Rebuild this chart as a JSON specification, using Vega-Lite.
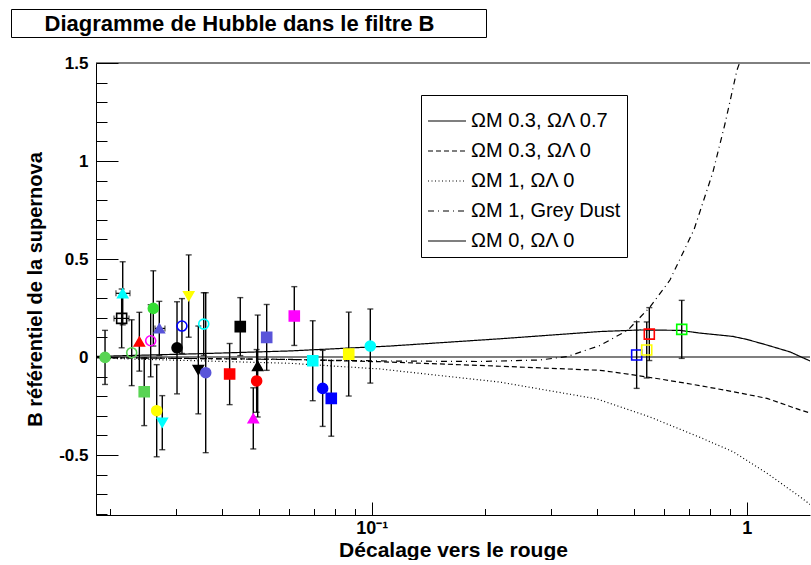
{
  "$schema": "https://vega.github.io/schema/vega-lite/v6.json",
  "background": "white",
  "padding": {"left": 10, "top": 8, "right": 0, "bottom": 0},
  "config": {
    "font": "Liberation Sans",
    "view": {"stroke": null},
    "axis": {"labelFont": "Liberation Sans", "titleFont": "Liberation Sans", "labelColor": "black", "titleColor": "black", "tickColor": "black", "domainColor": "black", "grid": false}
  },
  "datasets": {
    "titre": [{"texte": "Diagramme de Hubble dans le filtre B"}],
    "modeles": [
      {"modele": "ΩM 0.3, ΩΛ 0.7", "z": 0.0184, "delta": 0.003},
      {"modele": "ΩM 0.3, ΩΛ 0.7", "z": 0.0348, "delta": 0.017},
      {"modele": "ΩM 0.3, ΩΛ 0.7", "z": 0.0605, "delta": 0.031},
      {"modele": "ΩM 0.3, ΩΛ 0.7", "z": 0.1119, "delta": 0.056},
      {"modele": "ΩM 0.3, ΩΛ 0.7", "z": 0.2198, "delta": 0.093},
      {"modele": "ΩM 0.3, ΩΛ 0.7", "z": 0.4064, "delta": 0.13},
      {"modele": "ΩM 0.3, ΩΛ 0.7", "z": 0.5193, "delta": 0.138},
      {"modele": "ΩM 0.3, ΩΛ 0.7", "z": 0.6638, "delta": 0.136},
      {"modele": "ΩM 0.3, ΩΛ 0.7", "z": 0.7508, "delta": 0.122},
      {"modele": "ΩM 0.3, ΩΛ 0.7", "z": 0.9194, "delta": 0.105},
      {"modele": "ΩM 0.3, ΩΛ 0.7", "z": 1.0, "delta": 0.09},
      {"modele": "ΩM 0.3, ΩΛ 0.7", "z": 1.1327, "delta": 0.061},
      {"modele": "ΩM 0.3, ΩΛ 0.7", "z": 1.3047, "delta": 0.026},
      {"modele": "ΩM 0.3, ΩΛ 0.7", "z": 1.475, "delta": -0.02},
      {"modele": "ΩM 0.3, ΩΛ 0", "z": 0.0184, "delta": -0.003},
      {"modele": "ΩM 0.3, ΩΛ 0", "z": 0.0605, "delta": -0.012},
      {"modele": "ΩM 0.3, ΩΛ 0", "z": 0.1052, "delta": -0.024},
      {"modele": "ΩM 0.3, ΩΛ 0", "z": 0.2198, "delta": -0.047},
      {"modele": "ΩM 0.3, ΩΛ 0", "z": 0.4064, "delta": -0.068},
      {"modele": "ΩM 0.3, ΩΛ 0", "z": 0.4826, "delta": -0.087},
      {"modele": "ΩM 0.3, ΩΛ 0", "z": 0.5872, "delta": -0.112},
      {"modele": "ΩM 0.3, ΩΛ 0", "z": 0.7508, "delta": -0.146},
      {"modele": "ΩM 0.3, ΩΛ 0", "z": 0.9194, "delta": -0.177},
      {"modele": "ΩM 0.3, ΩΛ 0", "z": 1.1327, "delta": -0.211},
      {"modele": "ΩM 0.3, ΩΛ 0", "z": 1.3871, "delta": -0.27},
      {"modele": "ΩM 0.3, ΩΛ 0", "z": 1.475, "delta": -0.285},
      {"modele": "ΩM 1, ΩΛ 0", "z": 0.0184, "delta": -0.005},
      {"modele": "ΩM 1, ΩΛ 0", "z": 0.0605, "delta": -0.032},
      {"modele": "ΩM 1, ΩΛ 0", "z": 0.1052, "delta": -0.061},
      {"modele": "ΩM 1, ΩΛ 0", "z": 0.2198, "delta": -0.128},
      {"modele": "ΩM 1, ΩΛ 0", "z": 0.399, "delta": -0.214},
      {"modele": "ΩM 1, ΩΛ 0", "z": 0.5522, "delta": -0.306},
      {"modele": "ΩM 1, ΩΛ 0", "z": 0.7508, "delta": -0.41},
      {"modele": "ΩM 1, ΩΛ 0", "z": 0.9194, "delta": -0.483},
      {"modele": "ΩM 1, ΩΛ 0", "z": 1.1327, "delta": -0.593},
      {"modele": "ΩM 1, ΩΛ 0", "z": 1.3871, "delta": -0.713},
      {"modele": "ΩM 1, ΩΛ 0", "z": 1.475, "delta": -0.752},
      {"modele": "ΩM 1, Grey Dust", "z": 0.0184, "delta": -0.003},
      {"modele": "ΩM 1, Grey Dust", "z": 0.0605, "delta": -0.013},
      {"modele": "ΩM 1, Grey Dust", "z": 0.1052, "delta": -0.02},
      {"modele": "ΩM 1, Grey Dust", "z": 0.1944, "delta": -0.023},
      {"modele": "ΩM 1, Grey Dust", "z": 0.2811, "delta": -0.015},
      {"modele": "ΩM 1, Grey Dust", "z": 0.3317, "delta": 0.002},
      {"modele": "ΩM 1, Grey Dust", "z": 0.4064, "delta": 0.059},
      {"modele": "ΩM 1, Grey Dust", "z": 0.4826, "delta": 0.138},
      {"modele": "ΩM 1, Grey Dust", "z": 0.5522, "delta": 0.255},
      {"modele": "ΩM 1, Grey Dust", "z": 0.6243, "delta": 0.393},
      {"modele": "ΩM 1, Grey Dust", "z": 0.7236, "delta": 0.65},
      {"modele": "ΩM 1, Grey Dust", "z": 0.8129, "delta": 0.944},
      {"modele": "ΩM 1, Grey Dust", "z": 0.8752, "delta": 1.19},
      {"modele": "ΩM 1, Grey Dust", "z": 0.9421, "delta": 1.464},
      {"modele": "ΩM 1, Grey Dust", "z": 0.957, "delta": 1.5},
      {"modele": "ΩM 0, ΩΛ 0", "z": 0.0184, "delta": 0},
      {"modele": "ΩM 0, ΩΛ 0", "z": 1.475, "delta": 0}
    ],
    "supernovae": [
      {"sn": "SN01", "z": 0.01945, "delta": -0.002, "err": 0.138},
      {"sn": "SN02", "z": 0.02154, "delta": 0.197, "err": 0.15},
      {"sn": "SN03", "z": 0.02168, "delta": 0.325, "err": 0.161},
      {"sn": "SN04", "z": 0.02291, "delta": 0.022, "err": 0.168},
      {"sn": "SN05", "z": 0.02401, "delta": 0.078, "err": 0.15},
      {"sn": "SN06", "z": 0.02474, "delta": -0.177, "err": 0.173},
      {"sn": "SN07", "z": 0.02574, "delta": 0.083, "err": 0.184},
      {"sn": "SN08", "z": 0.02616, "delta": 0.248, "err": 0.192},
      {"sn": "SN09", "z": 0.02671, "delta": -0.274, "err": 0.235},
      {"sn": "SN10", "z": 0.02714, "delta": 0.146, "err": 0.138},
      {"sn": "SN11", "z": 0.02764, "delta": -0.335, "err": 0.138},
      {"sn": "SN12", "z": 0.03026, "delta": 0.047, "err": 0.235},
      {"sn": "SN13", "z": 0.03119, "delta": 0.158, "err": 0.14},
      {"sn": "SN14", "z": 0.03251, "delta": 0.311, "err": 0.21},
      {"sn": "SN15", "z": 0.03449, "delta": -0.066, "err": 0.224},
      {"sn": "SN16", "z": 0.03565, "delta": 0.168, "err": 0.16},
      {"sn": "SN17", "z": 0.03609, "delta": -0.08, "err": 0.408},
      {"sn": "SN18", "z": 0.0418, "delta": -0.087, "err": 0.156},
      {"sn": "SN19", "z": 0.04462, "delta": 0.155, "err": 0.148},
      {"sn": "SN20", "z": 0.04833, "delta": -0.313, "err": 0.156},
      {"sn": "SN21", "z": 0.04934, "delta": -0.122, "err": 0.16},
      {"sn": "SN22", "z": 0.04966, "delta": -0.046, "err": 0.26},
      {"sn": "SN23", "z": 0.05248, "delta": 0.1, "err": 0.168},
      {"sn": "SN24", "z": 0.06217, "delta": 0.209, "err": 0.15},
      {"sn": "SN25", "z": 0.06963, "delta": -0.019, "err": 0.204},
      {"sn": "SN26", "z": 0.074, "delta": -0.16, "err": 0.194},
      {"sn": "SN27", "z": 0.07802, "delta": -0.211, "err": 0.193},
      {"sn": "SN28", "z": 0.08685, "delta": 0.015, "err": 0.214},
      {"sn": "SN29", "z": 0.09915, "delta": 0.056, "err": 0.189},
      {"sn": "SN30", "z": 0.5088, "delta": 0.01, "err": 0.17},
      {"sn": "SN31", "z": 0.5413, "delta": 0.036, "err": 0.143},
      {"sn": "SN32", "z": 0.5499, "delta": 0.117, "err": 0.135},
      {"sn": "SN33", "z": 0.671, "delta": 0.141, "err": 0.148}
    ],
    "erreurs_z": [
      {"sn": "SN02", "zmin": 0.02055, "zmax": 0.02253, "delta": 0.197},
      {"sn": "SN03", "zmin": 0.0208, "zmax": 0.02267, "delta": 0.325},
      {"sn": "SN10", "zmin": 0.02643, "zmax": 0.0281, "delta": 0.146}
    ]
  },
  "spacing": 16,
  "vconcat": [
    {
      "width": 475,
      "height": 28,
      "view": {"stroke": "black", "strokeWidth": 1},
      "data": {"name": "titre"},
      "mark": {"type": "text", "font": "Liberation Sans", "fontWeight": "bold", "fontSize": 22, "baseline": "middle", "dx": -9, "dy": 1, "color": "black"},
      "encoding": {"text": {"field": "texte", "type": "nominal"}}
    },
    {
      "spacing": 13,
      "hconcat": [
        {
          "width": 1,
          "height": 1,
          "data": {"values": [{}]},
          "mark": {"type": "text", "text": ""},
          "encoding": {}
        },
        {
          "width": 714,
          "height": 452,
          "resolve": {"axis": {"x": "independent", "y": "independent"}},
          "layer": [
            {
              "data": {"name": "modeles"},
              "mark": {"type": "line", "clip": true, "strokeWidth": 1.2, "color": "black"},
              "encoding": {
                "x": {
                  "field": "z", "type": "quantitative",
                  "scale": {"type": "log", "domain": [0.0184, 1.475], "nice": false},
                  "axis": {
                    "orient": "bottom", "values": [0.1, 1], "tickSize": -13, "tickWidth": 1,
                    "labelExpr": "datum.value < 0.5 ? '10⁻¹' : '1'",
                    "labelFontSize": 18, "labelFontWeight": "bold", "labelPadding": 17,
                    "title": "Décalage vers le rouge", "titleFontSize": 21, "titleFontWeight": "bold", "titlePadding": 2
                  }
                },
                "y": {
                  "field": "delta", "type": "quantitative",
                  "scale": {"domain": [-0.806, 1.5], "nice": false, "zero": false},
                  "axis": {
                    "orient": "left", "values": [-0.5, 0, 0.5, 1, 1.5], "tickSize": -22, "tickWidth": 1,
                    "labelExpr": "datum.value < 0 ? '-' + format(-datum.value, '') : format(datum.value, '')",
                    "labelFontSize": 17, "labelFontWeight": "bold", "labelPadding": 30,
                    "title": "B référentiel de la supernova", "titleFontSize": 20, "titleFontWeight": "bold", "titlePadding": 13
                  }
                },
                "strokeDash": {
                  "field": "modele", "type": "nominal",
                  "scale": {
                    "domain": ["ΩM 0.3, ΩΛ 0.7", "ΩM 0.3, ΩΛ 0", "ΩM 1, ΩΛ 0", "ΩM 1, Grey Dust", "ΩM 0, ΩΛ 0"],
                    "range": [[1, 0], [5, 3], [1, 2.5], [6, 4, 1, 4], [1, 0]]
                  },
                  "legend": {
                    "orient": "none", "legendX": 410, "legendY": 86, "title": null,
                    "strokeColor": "black", "fillColor": "white", "padding": 6,
                    "labelFont": "Liberation Sans", "labelFontSize": 20, "labelColor": "black",
                    "symbolType": "stroke", "symbolSize": 1444, "symbolStrokeWidth": 1.2, "symbolStrokeColor": "black",
                    "rowPadding": -2, "labelOffset": 4, "labelLimit": 300
                  }
                }
              }
            },
            {
              "data": {"values": [{}]},
              "mark": {"type": "rule", "color": "black", "strokeWidth": 1},
              "encoding": {"y": {"datum": 1.5, "type": "quantitative", "scale": {"domain": [-0.806, 1.5], "nice": false, "zero": false}, "axis": null}}
            },
            {
              "data": {"name": "supernovae"},
              "mark": {"type": "errorbar", "color": "black", "thickness": 1.4, "ticks": {"size": 6}},
              "encoding": {
                "x": {"field": "z", "type": "quantitative", "scale": {"type": "log", "domain": [0.0184, 1.475], "nice": false}, "axis": null},
                "y": {"field": "delta", "type": "quantitative", "scale": {"domain": [-0.806, 1.5], "nice": false, "zero": false}, "axis": null},
                "yError": {"field": "err"}
              }
            },
            {
              "data": {"name": "erreurs_z"},
              "mark": {"type": "errorbar", "color": "black", "thickness": 1.2, "ticks": {"size": 6}},
              "encoding": {
                "x": {"field": "zmin", "type": "quantitative", "scale": {"type": "log", "domain": [0.0184, 1.475], "nice": false}, "axis": null},
                "x2": {"field": "zmax"},
                "y": {"field": "delta", "type": "quantitative", "scale": {"domain": [-0.806, 1.5], "nice": false, "zero": false}, "axis": null}
              }
            },
            {
              "data": {"name": "supernovae"},
              "mark": {"type": "point", "size": 100, "strokeWidth": 1.6, "opacity": 1},
              "encoding": {
                "x": {
                  "field": "z", "type": "quantitative",
                  "scale": {"type": "log", "domain": [0.0184, 1.475], "nice": false},
                  "axis": {"orient": "bottom", "values": [0.02, 0.03, 0.04, 0.05, 0.06, 0.07, 0.08, 0.09, 0.2, 0.3, 0.4, 0.5, 0.6, 0.7, 0.8, 0.9], "tickSize": -6.5, "labels": false, "domain": false, "title": null}
                },
                "y": {
                  "field": "delta", "type": "quantitative",
                  "scale": {"domain": [-0.806, 1.5], "nice": false, "zero": false},
                  "axis": {"orient": "left", "values": [-0.8, -0.7, -0.6, -0.4, -0.3, -0.2, -0.1, 0.1, 0.2, 0.3, 0.4, 0.6, 0.7, 0.8, 0.9, 1.1, 1.2, 1.3, 1.4], "tickSize": -11, "labels": false, "domain": false, "title": null}
                },
                "shape": {
                  "field": "sn", "type": "nominal", "legend": null,
                  "scale": {
                    "domain": ["SN01","SN02","SN03","SN04","SN05","SN06","SN07","SN08","SN09","SN10","SN11","SN12","SN13","SN14","SN15","SN16","SN17","SN18","SN19","SN20","SN21","SN22","SN23","SN24","SN25","SN26","SN27","SN28","SN29","SN30","SN31","SN32","SN33"],
                    "range": ["circle","square","triangle-up","circle","triangle-up","square","circle","circle","circle","triangle-up","triangle-down","circle","circle","triangle-down","triangle-down","circle","circle","square","square","triangle-up","circle","triangle-up","square","square","square","circle","square","square","circle","square","square","square","square"]
                  }
                },
                "stroke": {
                  "field": "sn", "type": "nominal", "legend": null,
                  "scale": {
                    "domain": ["SN01","SN02","SN03","SN04","SN05","SN06","SN07","SN08","SN09","SN10","SN11","SN12","SN13","SN14","SN15","SN16","SN17","SN18","SN19","SN20","SN21","SN22","SN23","SN24","SN25","SN26","SN27","SN28","SN29","SN30","SN31","SN32","SN33"],
                    "range": ["#59d454","#000000","#00ffff","#59d454","#ff0000","#59d454","#ff00ff","#33dd33","#ffff00","#5954d9","#00ffff","#000000","#0000ff","#ffff00","#000000","#00ffff","#5954d9","#ff0000","#000000","#ff00ff","#ff0000","#000000","#5954d9","#ff00ff","#00ffff","#0000ff","#0000ff","#ffff00","#00ffff","#0000ff","#ffff00","#ff0000","#00ff00"]
                  }
                },
                "fill": {
                  "field": "sn", "type": "nominal", "legend": null,
                  "condition": {"test": "indexof(['SN02','SN04','SN07','SN13','SN16','SN30','SN31','SN32','SN33'], datum.sn) >= 0", "value": "transparent"},
                  "scale": {
                    "domain": ["SN01","SN02","SN03","SN04","SN05","SN06","SN07","SN08","SN09","SN10","SN11","SN12","SN13","SN14","SN15","SN16","SN17","SN18","SN19","SN20","SN21","SN22","SN23","SN24","SN25","SN26","SN27","SN28","SN29","SN30","SN31","SN32","SN33"],
                    "range": ["#59d454","#000000","#00ffff","#59d454","#ff0000","#59d454","#ff00ff","#33dd33","#ffff00","#5954d9","#00ffff","#000000","#0000ff","#ffff00","#000000","#00ffff","#5954d9","#ff0000","#000000","#ff00ff","#ff0000","#000000","#5954d9","#ff00ff","#00ffff","#0000ff","#0000ff","#ffff00","#00ffff","#0000ff","#ffff00","#ff0000","#00ff00"]
                  }
                }
              }
            }
          ]
        }
      ]
    }
  ]
}
